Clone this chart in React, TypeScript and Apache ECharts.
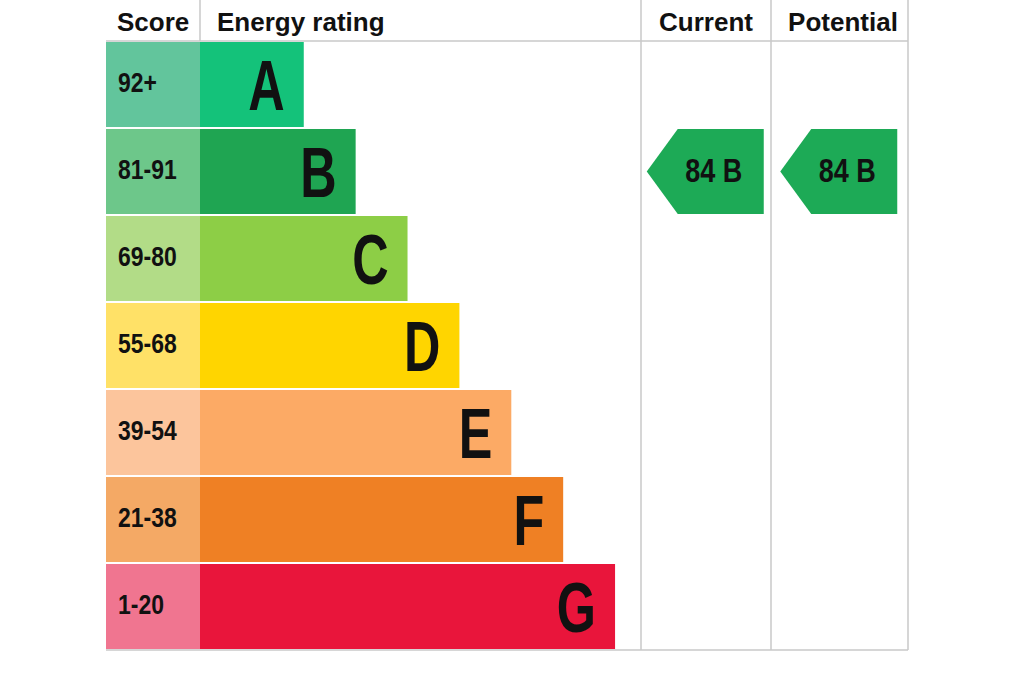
import React, { useEffect, useRef } from "react";
import * as echarts from "echarts";

const categories = ["A", "B", "C", "D", "E", "F", "G"];
const scoreRanges = ["92+", "81-91", "69-80", "55-68", "39-54", "21-38", "1-20"];
const bandMins = [92, 81, 69, 55, 39, 21, 1];
const barLengths = [2, 3, 4, 5, 6, 7, 8];
const barColors = ["#14c27a", "#1fa552", "#8dce46", "#ffd500", "#fcaa65", "#ef8024", "#e9153b"];
const scoreColors = ["#62c59c", "#6dc78a", "#b2dc87", "#ffe167", "#fcc59c", "#f4a965", "#f07590"];
const columns = ["Current", "Potential"];
const ratings = [84, 84];
const headers = ["Score", "Energy rating", "Current", "Potential"];

const FONT = '"Liberation Sans", Arial, sans-serif';

function bandOf(score: number): number {
  for (let i = 0; i < bandMins.length; i++) if (score >= bandMins[i]) return i;
  return bandMins.length - 1;
}

function txt(x: number, y: number, text: string, size: number, scaleX: number, align: string) {
  return {
    type: "text",
    x,
    y,
    scaleX,
    style: {
      text,
      font: `bold ${size}px ${FONT}`,
      fill: "#111",
      align,
      verticalAlign: "middle",
      textAlign: align,
      textVerticalAlign: "middle",
    },
  };
}

export default function App() {
  const ref = useRef<HTMLDivElement>(null);
  useEffect(() => {
    if (!ref.current) return;
    const chart = echarts.init(ref.current, null, { renderer: "svg" });
    const lineStyle = { stroke: "#c8c8c8", lineWidth: 1.5 };
    const option: any = {
      animation: false,
      backgroundColor: "#ffffff",
      grid: [
        { left: 106, top: 41, width: 94, height: 609 },
        { left: 200, top: 41, width: 441, height: 609 },
        { left: 641, top: 41, width: 267, height: 609 },
      ],
      xAxis: [
        { gridIndex: 0, type: "value", min: 0, max: 1, show: false },
        { gridIndex: 1, type: "value", min: 0, max: 8.5, show: false },
        { gridIndex: 2, type: "category", data: columns, show: false },
      ],
      yAxis: [0, 1, 2].map((g) => ({
        gridIndex: g,
        type: "category",
        data: categories,
        inverse: true,
        show: false,
      })),
      series: [
        {
          type: "custom",
          xAxisIndex: 0,
          yAxisIndex: 0,
          data: scoreRanges.map((s, i) => [1, i]),
          encode: { x: 0, y: 1 },
          renderItem: (params: any, api: any) => {
            const idx = api.value(1);
            const end = api.coord([api.value(0), idx]);
            const start = api.coord([0, idx]);
            const h = 85;
            return {
              type: "group",
              children: [
                {
                  type: "rect",
                  shape: { x: start[0], y: end[1] - h / 2, width: end[0] - start[0], height: h },
                  style: { fill: scoreColors[idx] },
                },
                txt(start[0] + 12, end[1] - 2, scoreRanges[idx], 28, 0.82, "left"),
              ],
            };
          },
          silent: true,
        },
        {
          type: "custom",
          xAxisIndex: 1,
          yAxisIndex: 1,
          data: barLengths.map((v, i) => [v, i]),
          encode: { x: 0, y: 1 },
          renderItem: (params: any, api: any) => {
            const idx = api.value(1);
            const end = api.coord([api.value(0), idx]);
            const start = api.coord([0, idx]);
            const h = 85;
            return {
              type: "group",
              children: [
                {
                  type: "rect",
                  shape: { x: start[0], y: end[1] - h / 2, width: end[0] - start[0], height: h },
                  style: { fill: barColors[idx] },
                },
                txt(end[0] - 19, end[1] + 1, categories[idx], 70, 0.72, "right"),
              ],
            };
          },
          silent: true,
        },
        {
          type: "custom",
          xAxisIndex: 2,
          yAxisIndex: 2,
          data: ratings.map((r, i) => [i, bandOf(r), r]),
          encode: { x: 0, y: 1 },
          renderItem: (params: any, api: any) => {
            const c = api.coord([api.value(0), api.value(1)]);
            const band = api.value(1);
            const score = api.value(2);
            const w = 117;
            const h = 85;
            const x0 = c[0] - w / 2 - 2.5;
            const x1 = x0 + w;
            const top = c[1] - h / 2;
            const bot = c[1] + h / 2;
            return {
              type: "group",
              children: [
                {
                  type: "polygon",
                  shape: {
                    points: [
                      [x0, c[1]],
                      [x0 + 31, top],
                      [x1, top],
                      [x1, bot],
                      [x0 + 31, bot],
                    ],
                  },
                  style: { fill: "#1daa56" },
                },
                txt(x0 + 67, c[1] - 1, `${score} ${categories[band]}`, 33, 0.82, "center"),
              ],
            };
          },
          silent: true,
        },
      ],
      graphic: [
        { type: "line", shape: { x1: 106, y1: 41, x2: 908, y2: 41 }, style: lineStyle, z: 10 },
        { type: "line", shape: { x1: 106, y1: 650, x2: 908, y2: 650 }, style: lineStyle, z: 10 },
        { type: "line", shape: { x1: 200, y1: 0, x2: 200, y2: 41 }, style: lineStyle, z: 10 },
        { type: "line", shape: { x1: 641, y1: 0, x2: 641, y2: 650 }, style: lineStyle, z: 10 },
        { type: "line", shape: { x1: 771, y1: 0, x2: 771, y2: 650 }, style: lineStyle, z: 10 },
        { type: "line", shape: { x1: 908, y1: 0, x2: 908, y2: 650 }, style: lineStyle, z: 10 },
        txt(117, 22, headers[0], 26, 1, "left"),
        txt(217, 22, headers[1], 26, 1, "left"),
        txt(706, 22, headers[2], 26, 1, "center"),
        txt(843, 22, headers[3], 26, 1, "center"),
      ],
    };
    chart.setOption(option);
    return () => chart.dispose();
  }, []);
  return (
    <div
      ref={ref}
      style={{ position: "fixed", left: 0, top: 0, width: 1024, height: 683, background: "#fff" }}
    />
  );
}
